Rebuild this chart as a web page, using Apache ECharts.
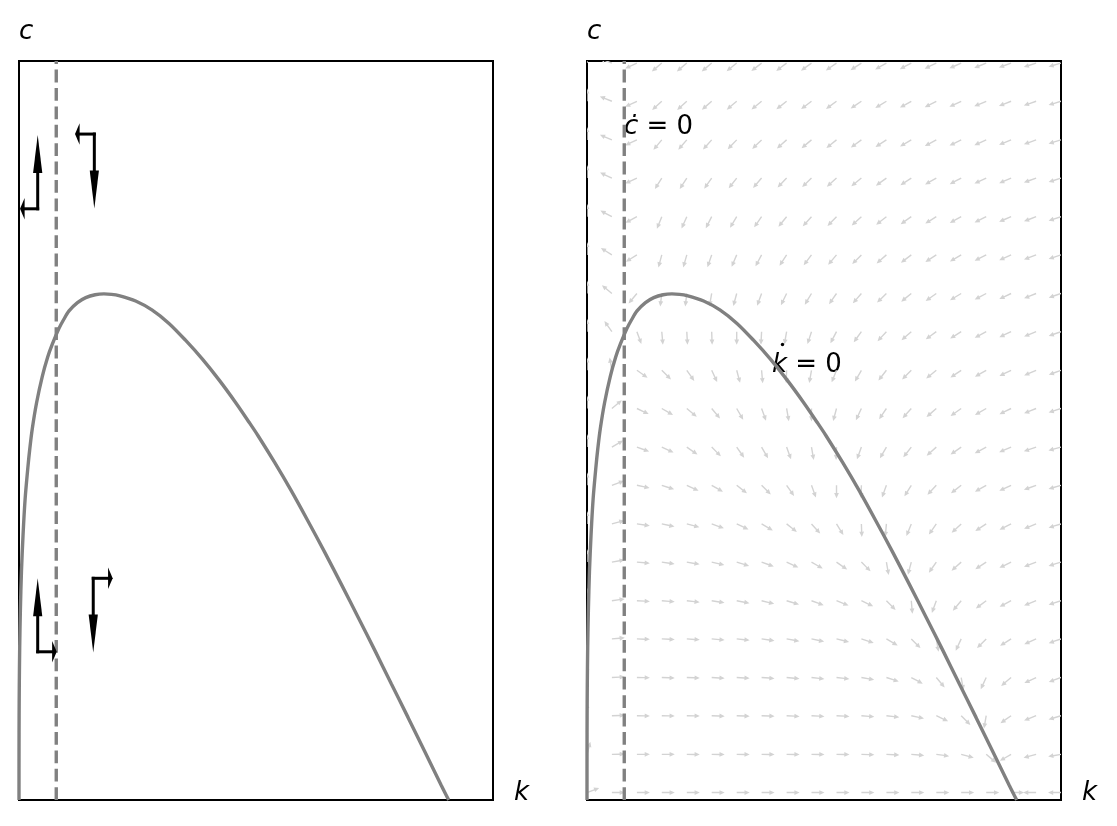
<!DOCTYPE html>
<html><head><meta charset="utf-8">
<script src="https://cdn.jsdelivr.net/npm/echarts/dist/echarts.min.js"></script>
<style>html,body{margin:0;padding:0;background:#fff}#chart{width:1117px;height:826px}</style>
</head><body><div id="chart"></div>
<script>
// ---- axis extents (no ticks shown) ----
const kMax = 34.86;
const cMax = 1.78;

// ---- k-dot = 0 locus ----
const curveK = [0, 0.002, 0.008, 0.02, 0.05, 0.1, 0.18, 0.3, 0.45, 0.65, 0.8, 0.98, 1.3, 1.71, 2.1, 2.45, 2.94, 3.3, 3.68, 4.3, 4.91, 5.6, 6.25, 6.8, 7.35, 8.58, 9.8, 11.03, 12.26, 13.49, 14.71, 15.94, 16.92, 17.57, 18.8, 20.02, 21.25, 22.48, 23.7, 24.93, 26.16, 27.38, 28.61, 29.84, 31.06, 31.6];
const curveC = [0, 0.125, 0.2, 0.27, 0.365, 0.455, 0.55, 0.64, 0.725, 0.80, 0.848, 0.895, 0.958, 1.02, 1.066, 1.098, 1.136, 1.158, 1.178, 1.198, 1.21, 1.217, 1.219, 1.218, 1.215, 1.202, 1.18, 1.148, 1.107, 1.062, 1.012, 0.957, 0.91, 0.878, 0.813, 0.745, 0.672, 0.597, 0.52, 0.441, 0.361, 0.28, 0.199, 0.117, 0.035, 0];

// ---- c-dot = 0 locus (vertical) ----
const cDotZeroK = 2.74;

// ---- left panel: black direction arrows (corner, horizontal step, vertical step) ----
const arrowK  = [1.375, 5.54, 1.375, 5.46];
const arrowC  = [1.424, 1.604, 0.357, 0.534];
const arrowDK = [-1.30, -1.42, 1.40, 1.43];
const arrowDC = [0.178, -0.179, 0.177, -0.179];

// ---- right panel: quiver grid and arrow directions (degrees, screen, CCW from +k) ----
const quiverK = [0, 1.83, 3.67, 5.50, 7.34, 9.17, 11.01, 12.84, 14.68, 16.51, 18.35, 20.18, 22.02, 23.85, 25.69, 27.52, 29.36, 31.19, 33.03, 34.86];
const quiverC = [0.018, 0.110, 0.203, 0.295, 0.388, 0.480, 0.573, 0.665, 0.758, 0.850, 0.943, 1.035, 1.128, 1.220, 1.313, 1.405, 1.498, 1.590, 1.683, 1.775];
const quiverAngle = [
  [20, 0, 0, 0, 0, 0, 0, 0, 0, 0, 0, 0, 0, 0, 0, 0, 0, 0, 180, 180],
  [75, 1, 0, 0, -1, -1, -1, -1, -1, -1, -1, -2, -3, -5, -8, -15, -40, -150, -165, -170],
  [90, 2, -1, -1, -1, -2, -2, -2, -3, -3, -3, -5, -7, -12, -25, -45, -100, -145, -158, -163],
  [90, 3, -1, -2, -2, -3, -3, -4, -5, -6, -6, -10, -18, -28, -50, -80, -115, -140, -155, -160],
  [90, 5, -2, -3, -4, -5, -6, -8, -10, -12, -14, -18, -30, -45, -80, -115, -135, -148, -156, -161],
  [90, 8, -3, -5, -7, -9, -11, -14, -17, -20, -22, -25, -45, -85, -110, -130, -143, -152, -158, -162],
  [90, 10, -5, -8, -10, -13, -17, -20, -25, -30, -35, -45, -80, -105, -125, -138, -147, -154, -159, -163],
  [90, 15, -8, -12, -15, -20, -25, -30, -38, -48, -58, -88, -95, -112, -125, -137, -147, -153, -158, -163],
  [90, 20, -12, -18, -25, -30, -38, -45, -55, -70, -90, -92, -110, -122, -133, -142, -150, -155, -160, -164],
  [90, 30, -20, -25, -35, -45, -55, -60, -70, -80, -92, -110, -120, -128, -138, -145, -152, -157, -161, -165],
  [90, 40, -25, -30, -40, -50, -60, -70, -80, -90, -105, -115, -124, -132, -139, -145, -150, -154, -158, -162],
  [90, 100, -35, -45, -55, -65, -75, -85, -92, -100, -112, -120, -128, -135, -141, -146, -150, -154, -157, -160],
  [90, 125, -70, -85, -87, -88, -90, -93, -100, -108, -118, -126, -133, -139, -144, -148, -152, -155, -158, -161],
  [90, 140, -130, -97, -97, -100, -105, -110, -116, -121, -125, -131, -136, -141, -145, -149, -152, -155, -158, -161],
  [90, 148, -148, -105, -106, -109, -113, -118, -123, -127, -130, -135, -139, -143, -147, -150, -153, -156, -159, -162],
  [90, 152, -152, -112, -114, -117, -121, -125, -129, -132, -134, -138, -142, -145, -148, -151, -154, -157, -159, -162],
  [90, 155, -155, -122, -123, -125, -128, -131, -134, -136, -138, -141, -144, -147, -150, -152, -155, -157, -160, -162],
  [90, 157, -155, -130, -131, -132, -134, -136, -138, -140, -141, -144, -147, -150, -152, -154, -156, -158, -160, -163],
  [90, 158, -155, -138, -138, -139, -140, -141, -142, -143, -144, -146, -149, -151, -153, -155, -157, -159, -161, -163],
  [90, 160, -155, -140, -140, -140, -141, -142, -143, -144, -145, -147, -150, -152, -154, -156, -158, -160, -162, -164]
];

// ---- build series data ----
const curveData = curveK.map((k, i) => [k, curveC[i]]);
const dashData = [[cDotZeroK, 0], [cDotZeroK, cMax]];
const stepData = [];
arrowK.forEach((k, i) => {
  stepData.push([k, arrowC[i], arrowDK[i], 0]);
  stepData.push([k, arrowC[i], 0, arrowDC[i]]);
});
const quiverData = [];
quiverC.forEach((c, j) => quiverK.forEach((k, i) => quiverData.push([k, c, quiverAngle[j][i]])));

const GRAY = '#808080';
const FONT = '"DejaVu Sans", sans-serif';

function stepArrow(params, api) {
  const p0 = api.coord([api.value(0), api.value(1)]);
  const p1 = api.coord([api.value(0) + api.value(2), api.value(1) + api.value(3)]);
  const dx = p1[0] - p0[0], dy = p1[1] - p0[1];
  const len = Math.hypot(dx, dy);
  const ux = dx / len, uy = dy / len, nx = -uy, ny = ux;
  const vertical = Math.abs(dy) > Math.abs(dx);
  const hl = vertical ? 38 : 4.6;
  const hw = vertical ? 4.6 : 10.8;
  const bx = p1[0] - ux * hl, by = p1[1] - uy * hl;
  return {
    type: 'group',
    children: [
      { type: 'line', shape: { x1: p0[0], y1: p0[1], x2: bx, y2: by },
        style: { stroke: '#000', lineWidth: 3, lineCap: 'square' } },
      { type: 'polygon', shape: { points: [[p1[0], p1[1]], [bx + nx * hw, by + ny * hw], [bx - nx * hw, by - ny * hw]] },
        style: { fill: '#000' } }
    ]
  };
}

function quiverArrow(params, api) {
  const p = api.coord([api.value(0), api.value(1)]);
  const a = api.value(2) * Math.PI / 180;
  const L = 13, hl = 5.2, hw = 2.4, sw = 0.7;
  const ux = Math.cos(a), uy = -Math.sin(a), nx = -uy, ny = ux;
  const bx = p[0] + ux * (L - hl), by = p[1] + uy * (L - hl);
  const tx = p[0] + ux * L, ty = p[1] + uy * L;
  return {
    type: 'polygon',
    shape: { points: [
      [p[0] + nx * sw, p[1] + ny * sw], [bx + nx * sw, by + ny * sw], [bx + nx * hw, by + ny * hw],
      [tx, ty], [bx - nx * hw, by - ny * hw], [bx - nx * sw, by - ny * sw], [p[0] - nx * sw, p[1] - ny * sw]
    ] },
    style: { fill: '#d3d3d3' }
  };
}

const gridBase = { top: 61, width: 474, height: 739, show: true, borderColor: '#000', borderWidth: 2, backgroundColor: 'transparent' };
const axisX = (g) => ({ gridIndex: g, type: 'value', min: 0, max: kMax, show: false });
const axisY = (g) => ({ gridIndex: g, type: 'value', min: 0, max: cMax, show: false });

function txt(x, y, text, rich) {
  return { type: 'text', x: x, y: y, silent: true,
    style: { text: text, font: '26px ' + FONT, fill: '#000', verticalAlign: 'bottom', rich: rich || {} } };
}
const italic = { i: { fontStyle: 'italic', fontSize: 26, fontFamily: FONT } };

const curveStyle = { color: GRAY, width: 3.4 };
const dashStyle = { color: GRAY, width: 3.4, type: [12.8, 5.6] };

const option = {
  animation: false,
  backgroundColor: '#fff',
  grid: [Object.assign({ left: 19 }, gridBase), Object.assign({ left: 587 }, gridBase)],
  xAxis: [axisX(0), axisX(1)],
  yAxis: [axisY(0), axisY(1)],
  series: [
    { type: 'custom', xAxisIndex: 1, yAxisIndex: 1, renderItem: quiverArrow, data: quiverData, clip: true, z: 1, silent: true },
    { type: 'line', xAxisIndex: 0, yAxisIndex: 0, data: curveData, showSymbol: false, smooth: 0.3, lineStyle: curveStyle, z: 3, silent: true },
    { type: 'line', xAxisIndex: 1, yAxisIndex: 1, data: curveData, showSymbol: false, smooth: 0.3, lineStyle: curveStyle, z: 3, silent: true },
    { type: 'line', xAxisIndex: 0, yAxisIndex: 0, data: dashData, showSymbol: false, lineStyle: dashStyle, z: 3, silent: true },
    { type: 'line', xAxisIndex: 1, yAxisIndex: 1, data: dashData, showSymbol: false, lineStyle: dashStyle, z: 3, silent: true },
    { type: 'custom', xAxisIndex: 0, yAxisIndex: 0, renderItem: stepArrow, data: stepData, clip: false, z: 4, silent: true }
  ],
  graphic: [
    txt(19, 45, '{i|c}', italic),
    txt(587, 45, '{i|c}', italic),
    txt(514, 806, '{i|k}', italic),
    txt(1082, 806, '{i|k}', italic),
    txt(624, 140, '{i|\u010B} = 0', italic),
    txt(772, 378, '{i|k} = 0', italic),
    { type: 'circle', shape: { cx: 782.5, cy: 344.5, r: 1.7 }, style: { fill: '#000' }, silent: true }
  ]
};

const chart = echarts.init(document.getElementById('chart'), null, { renderer: 'canvas' });
chart.setOption(option);
</script>
</body></html>
